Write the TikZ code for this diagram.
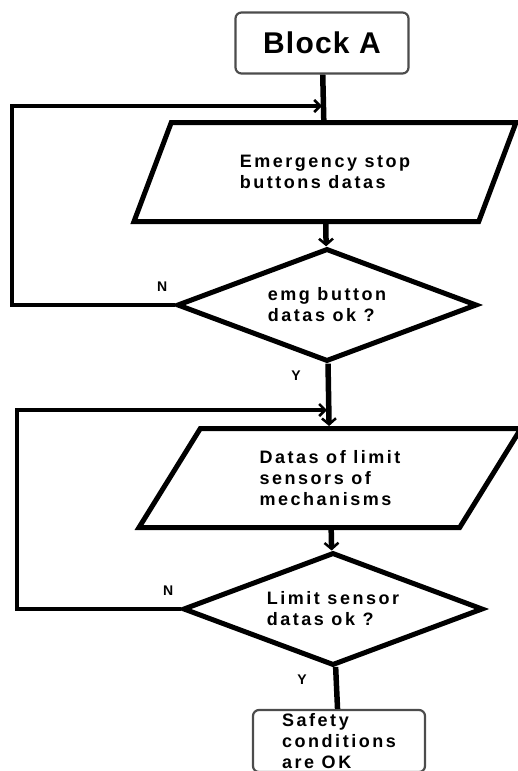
\documentclass[tikz,border=0pt]{standalone}
\usepackage{fontspec}
\setmainfont{Liberation Sans}
\newfontfamily\chartfont{Liberation Sans}[LetterSpace=14]
\newfontfamily\titlefont{Liberation Sans}[LetterSpace=4]
\usetikzlibrary{arrows.meta,positioning,shapes.geometric}

\begin{document}
\begin{tikzpicture}[x=1pt, y=-1pt,
  font=\chartfont\bfseries\fontsize{18}{21}\selectfont,
  endbox/.style={draw=black!70, line width=2.2pt, rounded corners=6pt, inner sep=0pt},
  pgram/.style={draw, line width=5pt, trapezium, trapezium left angle=42,
    trapezium right angle=138, trapezium stretches body, minimum width=382pt,
    minimum height=99pt, inner sep=0pt, align=left},
  test/.style={draw, line width=5pt, diamond, aspect=2.65, minimum width=300pt,
    minimum height=113pt, inner sep=0pt, align=left},
  flow/.style={line width=5.5pt},
  into/.style={flow, -{Straight Barb[length=6pt,width=14pt,line width=2.5pt]}},
  back/.style={line width=3.5pt, -{Straight Barb[length=6pt,width=12pt,line width=2.5pt]}},
  tag/.style={font=\chartfont\bfseries\fontsize{14}{14}\selectfont, inner sep=0pt}]
  \useasboundingbox (0,0) rectangle (517,771);

  \node[endbox, minimum width=173pt, minimum height=61pt,
    font=\titlefont\bfseries\fontsize{30}{30}\selectfont] (blockA) at (322,43) {Block A};

  % emergency stop part
  \node[pgram] (in1) at (325,172) {Emergency stop\\buttons datas};
  \node[test] (chk1) at (327,305) {emg button\\datas ok ?};
  \node[tag, above left=13pt and 7pt of chk1.west] (no1) {N};
  \node[tag, below left=7pt and 26pt of chk1.south] (yes1) {Y};
  \coordinate (m1) at (322,106);
  \coordinate (l1) at (12,106);

  \draw[flow] (blockA) -- (in1);
  \draw[into] (in1) -- (chk1);
  \draw[back] (chk1.west) -| (l1) -- (m1);

  % limit sensor part
  \node[pgram] (in2) at (330,478) {Datas of limit\\sensors of\\mechanisms};
  \node[test] (chk2) at (333,609) {Limit sensor\\datas ok ?};
  \node[tag, above left=13pt and 7pt of chk2.west] (no2) {N};
  \node[tag, below left=7pt and 26pt of chk2.south] (yes2) {Y};
  \coordinate (m2) at (327,410);
  \coordinate (l2) at (17,410);

  \draw[into] (chk1) -- (in2);
  \draw[into] (in2) -- (chk2);
  \draw[back] (chk2.west) -| (l2) -- (m2);

  \node[endbox, minimum width=172pt, minimum height=62pt, align=left]
    (done) at (339,741) {Safety\\conditions\\are OK};
  \draw[flow] (chk2) -- (done);
\end{tikzpicture}
\end{document}
